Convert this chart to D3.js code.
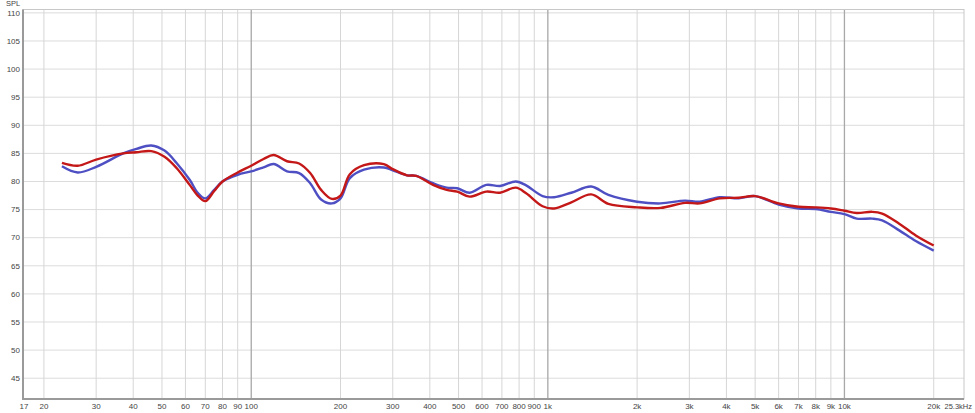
<!DOCTYPE html>
<html>
<head>
<meta charset="utf-8">
<script src="https://cdn.jsdelivr.net/npm/d3@7"></script>
<style>
  body { margin: 0; background: #fff; }
  svg { display: block; font-family: "Liberation Sans", Arial, sans-serif; }
</style>
</head>
<body>
<svg id="chart" width="975" height="413"></svg>
<script>
// frequency points (Hz) shared by both traces
const freqs = [23, 26, 30, 37, 41, 46, 51, 56, 62, 66, 70, 75, 80, 90, 100, 110, 119, 132, 145, 158,
  172, 187, 200, 215, 240, 280, 300, 335, 360, 410, 456, 495, 545, 620, 690, 780, 845, 960, 1050, 1200,
  1400, 1600, 2000, 2400, 2900, 3250, 3800, 4400, 5000, 6000, 7000, 8000, 9000, 10000, 11000, 12400,
  13400, 15300, 17400, 20000];

const redSpl = [83.3, 82.8, 83.9, 85.0, 85.2, 85.4, 84.4, 82.4, 79.4, 77.5, 76.5, 78.3, 80.0, 81.6, 82.8, 84.0, 84.7, 83.6, 83.2, 81.5,
  78.5, 76.9, 77.5, 81.3, 82.9, 83.1, 82.2, 81.1, 81.0, 79.4, 78.5, 78.2, 77.3, 78.2, 78.0, 78.9, 77.9, 75.6, 75.2, 76.3,
  77.7, 76.0, 75.4, 75.3, 76.2, 76.1, 77.0, 77.1, 77.4, 76.1, 75.5, 75.4, 75.2, 74.8, 74.4, 74.6,
  74.3, 72.5, 70.4, 68.6];

const blueSpl = [82.7, 81.6, 82.6, 85.0, 85.8, 86.4, 85.5, 83.3, 80.3, 78.0, 77.0, 78.5, 80.0, 81.2, 81.8, 82.5, 83.1, 81.8, 81.5, 79.7,
  76.8, 76.1, 77.0, 80.6, 82.1, 82.5, 82.0, 81.1, 81.0, 79.7, 78.9, 78.8, 78.0, 79.4, 79.2, 80.0, 79.3, 77.4, 77.2, 78.0,
  79.1, 77.6, 76.4, 76.1, 76.6, 76.4, 77.2, 77.0, 77.4, 75.9, 75.2, 75.1, 74.6, 74.2, 73.4, 73.4,
  73.1, 71.3, 69.4, 67.7];

// axis ticks
const freqTicks = [17, 20, 30, 40, 50, 60, 70, 80, 90, 100, 200, 300, 400, 500, 600, 700, 800, 900, 1000,
  2000, 3000, 4000, 5000, 6000, 7000, 8000, 9000, 10000, 20000];
const freqLabels = ["17", "20", "30", "40", "50", "60", "70", "80", "90", "100", "200", "300", "400", "500", "600", "700", "800", "900", "1k",
  "2k", "3k", "4k", "5k", "6k", "7k", "8k", "9k", "10k", "20k"];
const splTicks = [45, 50, 55, 60, 65, 70, 75, 80, 85, 90, 95, 100, 105, 110];
const majorFreqs = [100, 1000, 10000];

const size = { left: 23, right: 964, top: 9.5, bottom: 399 };
const svg = d3.select('#chart');

const x = d3.scaleLog()
  .domain([17, 25300])
  .range([size.left, size.right]);

const y = d3.scaleLinear()
  .domain([41.3, 110.6])
  .range([size.bottom, size.top]);

// horizontal grid
svg.append("g")
  .selectAll("line")
  .data(splTicks)
  .enter().append("line")
  .attr("x1", size.left).attr("x2", size.right)
  .attr("y1", d => y(d)).attr("y2", d => y(d))
  .attr("stroke", "#dcdcdc")
  .attr("stroke-width", 1);

// vertical grid, decades darker
svg.append("g")
  .selectAll("line")
  .data(freqTicks.filter(f => f > 17))
  .enter().append("line")
  .attr("x1", d => x(d)).attr("x2", d => x(d))
  .attr("y1", size.top).attr("y2", size.bottom)
  .attr("stroke", d => majorFreqs.includes(d) ? "#a8a8a8" : "#d6d6d6")
  .attr("stroke-width", d => majorFreqs.includes(d) ? 1.3 : 1);

// frame
svg.append("rect")
  .attr("x", size.left).attr("y", size.top)
  .attr("width", size.right - size.left)
  .attr("height", size.bottom - size.top)
  .attr("fill", "none")
  .attr("stroke", "#c8c8c8");

svg.append("path")
  .attr("d", `M${size.left},${size.top}V${size.bottom}H${size.right}`)
  .attr("fill", "none")
  .attr("stroke", "#9a9a9a")
  .attr("stroke-width", 2);

// y labels
svg.append("g")
  .selectAll("text")
  .data(splTicks)
  .enter().append("text")
  .attr("x", size.left - 3)
  .attr("y", d => y(d))
  .attr("dy", "0.35em")
  .attr("text-anchor", "end")
  .attr("font-size", 8)
  .attr("fill", "#444")
  .text(d => d);

svg.append("text")
  .attr("x", 6).attr("y", 6)
  .attr("font-size", 7.5)
  .attr("fill", "#444")
  .text("SPL");

// x labels
svg.append("g")
  .selectAll("text")
  .data(freqTicks)
  .enter().append("text")
  .attr("x", (d, i) => x(d) + (i === 0 ? 1 : 0))
  .attr("y", 409)
  .attr("text-anchor", "middle")
  .attr("font-size", 8)
  .attr("fill", "#444")
  .text((d, i) => freqLabels[i]);

// end-of-range label, kept inside the window
svg.append("text")
  .attr("x", 972).attr("y", 409)
  .attr("text-anchor", "end")
  .attr("font-size", 7.5)
  .attr("fill", "#444")
  .text("25.3kHz");

// traces
const line = d3.line()
  .x(d => x(d[0]))
  .y(d => y(d[1]))
  .curve(d3.curveCatmullRom.alpha(0.5));

const series = [
  { name: "blue", values: blueSpl, color: "#4f4fc4" },
  { name: "red", values: redSpl, color: "#c41818" }
];

svg.selectAll("path.trace")
  .data(series)
  .enter().append("path")
  .attr("class", "trace")
  .attr("d", s => line(freqs.map((f, i) => [f, s.values[i]])))
  .attr("fill", "none")
  .attr("stroke", s => s.color)
  .attr("stroke-width", 2.4)
  .attr("stroke-linejoin", "round");
</script>
</body>
</html>
